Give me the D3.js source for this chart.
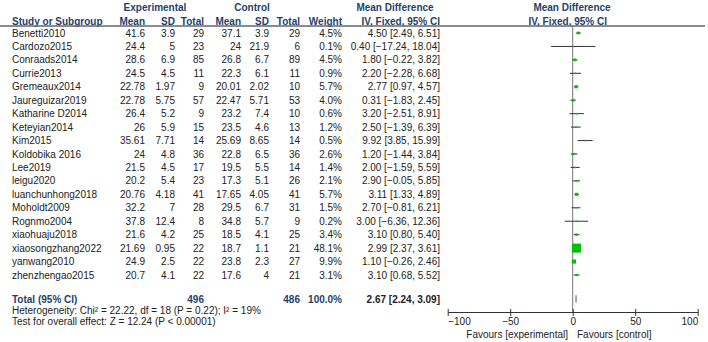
<!DOCTYPE html>
<html><head><meta charset="utf-8">
<script src="https://cdn.jsdelivr.net/npm/d3@7"></script>
<style>body{margin:0;background:#fff}svg{display:block;font-family:"Liberation Sans",Arial,sans-serif}</style>
</head><body><svg id="c" width="708" height="342"></svg>
<script>
const studies = ["Benetti2010","Cardozo2015","Conraads2014","Currie2013","Gremeaux2014","Jaureguizar2019","Katharine D2014","Keteyian2014","Kim2015","Koldobika 2016","Lee2019","leigu2020","luanchunhong2018","Moholdt2009","Rognmo2004","xiaohuaju2018","xiaosongzhang2022","yanwang2010","zhenzhengao2015"];
const expMean = ["41.6","24.4","28.6","24.5","22.78","22.78","26.4","26","35.61","24","21.5","20.2","20.76","32.2","37.8","21.6","21.69","24.9","20.7"];
const expSD = ["3.9","5","6.9","4.5","1.97","5.75","5.2","5.9","7.71","4.8","4.5","5.4","4.18","7","12.4","4.2","0.95","2.5","4.1"];
const expN = [29,23,85,11,9,57,9,15,14,36,17,23,41,28,8,25,22,22,22];
const ctlMean = ["37.1","24","26.8","22.3","20.01","22.47","23.2","23.5","25.69","22.8","19.5","17.3","17.65","29.5","34.8","18.5","18.7","23.8","17.6"];
const ctlSD = ["3.9","21.9","6.7","6.1","2.02","5.71","7.4","4.6","8.65","6.5","5.5","5.1","4.05","6.7","5.7","4.1","1.1","2.3","4"];
const ctlN = [29,6,89,11,10,53,10,13,14,36,14,26,41,31,9,25,21,27,21];
const weight = [4.5,0.1,4.5,0.9,5.7,4.0,0.6,1.2,0.5,2.6,1.4,2.1,5.7,1.5,0.2,3.4,48.1,9.9,3.1];
const md = [4.50,0.40,1.80,2.20,2.77,0.31,3.20,2.50,9.92,1.20,2.00,2.90,3.11,2.70,3.00,3.10,2.99,1.10,3.10];
const lo = [2.49,-17.24,-0.22,-2.28,0.97,-1.83,-2.51,-1.39,3.85,-1.44,-1.59,-0.05,1.33,-0.81,-6.36,0.80,2.37,-0.26,0.68];
const hi = [6.51,18.04,3.82,6.68,4.57,2.45,8.91,6.39,15.99,3.84,5.59,5.85,4.89,6.21,12.36,5.40,3.61,2.46,5.52];
const total = {label:"Total (95% CI)", expN:496, ctlN:486, weight:"100.0%", md:2.67, lo:2.24, hi:3.09};
const axisTicks = [-100,-50,0,50,100];
const hetText = "Heterogeneity: Chi\u00b2 = 22.22, df = 18 (P = 0.22); I\u00b2 = 19%";
const testText = "Test for overall effect: Z = 12.24 (P < 0.00001)";

const svg = d3.select("#c");
const fmt2 = d3.format(".2f");
const navy = "#243f6b", txt = "#222";
const fs = 10;

const y = d3.scaleLinear().domain([0, studies.length-1]).range([33, 275]);
const x = d3.scaleLinear().domain([-100,100]).range([447.7, 697.7]);
const sz = d3.scaleSqrt().domain([0, 48.1]).range([0, 9]);

function t(xp, yp, s, anchor, bold, color){
  return svg.append("text").attr("x", xp).attr("y", yp).attr("text-anchor", anchor||"start")
    .attr("font-size", fs).attr("font-weight", bold?"bold":"normal").attr("fill", color||txt).text(s);
}
// headers
t(155, 10.5, "Experimental", "middle", true, navy);
t(252, 10.5, "Control", "middle", true, navy);
t(395, 10.5, "Mean Difference", "middle", true, navy);
t(572, 10.5, "Mean Difference", "middle", true, navy);
const hy = 24.5;
t(12, hy, "Study or Subgroup", "start", true, navy);
t(145, hy, "Mean", "end", true, navy);
t(175, hy, "SD", "end", true, navy);
t(204, hy, "Total", "end", true, navy);
t(241, hy, "Mean", "end", true, navy);
t(269, hy, "SD", "end", true, navy);
t(300, hy, "Total", "end", true, navy);
t(342, hy, "Weight", "end", true, navy);
t(440, hy, "IV, Fixed, 95% CI", "end", true, navy);
t(607, hy, "IV, Fixed, 95% CI", "end", true, navy);
svg.append("line").attr("x1",0).attr("x2",705).attr("y1",26).attr("y2",26).attr("stroke","#666").attr("stroke-width",1.3);

// rows
studies.forEach((s,i)=>{
  const yy = y(i)+3.5;
  t(12, yy, s);
  t(145, yy, expMean[i], "end");
  t(175, yy, expSD[i], "end");
  t(204, yy, expN[i], "end");
  t(241, yy, ctlMean[i], "end");
  t(269, yy, ctlSD[i], "end");
  t(300, yy, ctlN[i], "end");
  t(342, yy, weight[i].toFixed(1)+"%", "end");
  t(440, yy, fmt2(md[i])+" ["+fmt2(lo[i])+", "+fmt2(hi[i])+"]", "end");
});

// zero line
svg.append("line").attr("x1",x(0)).attr("x2",x(0)).attr("y1",26).attr("y2",312).attr("stroke","#777").attr("stroke-width",1);

// CI lines & squares
studies.forEach((s,i)=>{
  svg.append("line").attr("x1",x(lo[i])).attr("x2",x(hi[i])).attr("y1",y(i)).attr("y2",y(i)).attr("stroke","#333").attr("stroke-width",1);
  const a = Math.max(sz(weight[i]), 1.6);
  svg.append("rect").attr("x",x(md[i])-a/2).attr("y",y(i)-a/2).attr("width",a).attr("height",a).attr("fill","#00c000");
});

// total row
const ty = 299;
t(12, ty+3.5, total.label, "start", true, navy);
t(204, ty+3.5, total.expN, "end", true, navy);
t(300, ty+3.5, total.ctlN, "end", true, navy);
t(342, ty+3.5, total.weight, "end", true, navy);
t(440, ty+3.5, fmt2(total.md)+" ["+fmt2(total.lo)+", "+fmt2(total.hi)+"]", "end", true, txt);
svg.append("path").attr("d", `M${x(total.lo)},${ty}L${x(total.md)},${ty-4}L${x(total.hi)},${ty}L${x(total.md)},${ty+4}Z`)
  .attr("fill","#888").attr("stroke","#888").attr("stroke-width",0.6);

t(12, 313.5, hetText);
t(12, 324.5, testText);

// axis
const ay = 312;
const g = svg.append("g").attr("transform",`translate(0,${ay})`);
const ax = d3.axisBottom(x).tickValues(axisTicks).tickSize(4).tickSizeOuter(0).tickPadding(2);
g.call(ax);
g.select(".domain").attr("stroke","#333");
g.selectAll(".tick line").attr("stroke","#333").attr("y1",-3);
g.selectAll(".tick text").attr("font-size",fs).attr("fill",txt).attr("font-family","Liberation Sans, Arial, sans-serif")
  .attr("text-anchor",(d,i,n)=> i===0 ? "start" : (i===n.length-1 ? "end" : "middle"));
t(568, 337.5, "Favours [experimental]", "end");
t(577, 337.5, "Favours [control]", "start");
</script></body></html>
